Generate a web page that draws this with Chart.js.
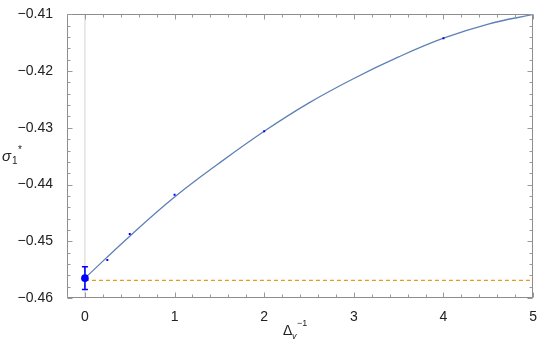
<!DOCTYPE html>
<html><head><meta charset="utf-8">
<script src="https://cdn.jsdelivr.net/npm/chart.js@4/dist/chart.umd.min.js"></script>
<style>html,body{margin:0;padding:0;background:#fff;}#wrap{width:540px;height:343px;}</style>
</head><body><div id="wrap"><canvas id="c" width="540" height="343"></canvas></div>
<script>
// data
const pointX = [0.25, 0.5, 1, 2, 4];
const pointY = [-0.4533, -0.4487, -0.4418, -0.4306, -0.4142];
const extrapX = [0];
const extrapY = [-0.4565];
const extrapErr = [0.0020];
const fitX = [0, 0.5, 1, 1.5, 2, 2.5, 3, 3.5, 4, 4.5, 5];
const fitY = [-0.4565, -0.4491, -0.4422, -0.4362, -0.4306, -0.4256, -0.4213, -0.4175, -0.4142, -0.4117, -0.4100];
const refX = [0, 5];
const refY = [-0.4569, -0.4569];
const xTicks = [0, 1, 2, 3, 4, 5];
const yTicks = [-0.46, -0.45, -0.44, -0.43, -0.42, -0.41];

const FONT = '"Liberation Sans", Arial, sans-serif';
const frame = {
  id: 'frame',
  beforeDatasetsDraw(chart) {
    const {ctx, chartArea: a, scales: {x}} = chart;
    ctx.save();
    ctx.strokeStyle = '#e2e2e2'; ctx.lineWidth = 1.5;
    const x0 = x.getPixelForValue(0);
    ctx.beginPath(); ctx.moveTo(x0, a.top); ctx.lineTo(x0, a.bottom); ctx.stroke();
    ctx.restore();
  },
  afterDatasetsDraw(chart) {
    const {ctx, chartArea: a, scales: {x, y}} = chart;
    ctx.save();
    // error bar
    ctx.strokeStyle = '#0000ff'; ctx.lineWidth = 1.6;
    extrapX.forEach((vx, i) => {
      const px = x.getPixelForValue(vx);
      const top = y.getPixelForValue(extrapY[i] + extrapErr[i]);
      const bot = y.getPixelForValue(extrapY[i] - extrapErr[i]);
      ctx.beginPath();
      ctx.moveTo(px, top); ctx.lineTo(px, bot);
      ctx.moveTo(px - 3, top); ctx.lineTo(px + 3, top);
      ctx.moveTo(px - 3, bot); ctx.lineTo(px + 3, bot);
      ctx.stroke();
    });
    // frame
    const L0 = Math.round(a.left) + 0.5, R0 = Math.round(a.right) - 0.5;
    const T0 = Math.round(a.top) + 0.5, B0 = Math.round(a.bottom) - 0.5;
    ctx.strokeStyle = '#8c8c8c'; ctx.lineWidth = 1;
    ctx.strokeRect(L0, T0, R0 - L0, B0 - T0);
    // ticks
    ctx.strokeStyle = '#999';
    ctx.beginPath();
    for (let k = 0; k <= 26; k++) {
      const v = -0.2 + k * 0.2;
      const major = (k - 1) % 5 === 0;
      const L = major ? 5 : 3;
      const px = Math.round(x.getPixelForValue(v)) + 0.5;
      ctx.moveTo(px, B0); ctx.lineTo(px, B0 - L);
      ctx.moveTo(px, T0); ctx.lineTo(px, T0 + L);
    }
    for (let k = 0; k <= 25; k++) {
      const v = -0.46 + k * 0.002;
      const major = k % 5 === 0;
      const L = major ? 5 : 3;
      const py = Math.round(y.getPixelForValue(v)) + 0.5;
      ctx.moveTo(L0, py); ctx.lineTo(L0 + L, py);
      ctx.moveTo(R0, py); ctx.lineTo(R0 - L, py);
    }
    ctx.stroke();
    // axis titles
    ctx.fillStyle = '#222';
    ctx.textBaseline = 'alphabetic';
    ctx.textAlign = 'left';
    ctx.font = 'italic 15px ' + FONT;
    ctx.fillText('σ', 2, 161);
    ctx.font = '10px ' + FONT;
    ctx.fillText('1', 12, 164);
    ctx.fillText('*', 18, 153);
    ctx.font = '14px ' + FONT;
    ctx.fillText('Δ', 283, 335);
    ctx.font = 'italic 9px ' + FONT;
    ctx.fillText('v', 292, 339);
    ctx.font = '9px ' + FONT;
    ctx.fillText('−1', 297, 326);
    ctx.restore();
  }
};

new Chart(document.getElementById('c'), {
  data: {
    datasets: [
      { type: 'line', data: refX.map((v, i) => ({x: v, y: refY[i]})), borderColor: '#E19C24', borderWidth: 1.2, borderDash: [4, 3], pointRadius: 0, order: 4 },
      { type: 'line', data: fitX.map((v, i) => ({x: v, y: fitY[i]})), borderColor: '#5E81B5', borderWidth: 1.3, pointRadius: 0, tension: 0.4, order: 3 },
      { type: 'scatter', data: pointX.map((v, i) => ({x: v, y: pointY[i]})), backgroundColor: '#0000ff', borderColor: '#0000ff', pointStyle: 'rect', pointRadius: 1.4, borderWidth: 0, order: 2 },
      { type: 'scatter', data: extrapX.map((v, i) => ({x: v, y: extrapY[i]})), backgroundColor: '#0000ff', borderColor: '#0000ff', pointRadius: 3.8, borderWidth: 0, order: 1 }
    ]
  },
  options: {
    responsive: false, animation: false,
    layout: { padding: { top: 10, right: 5, left: 0, bottom: 0 } },
    plugins: { legend: { display: false }, tooltip: { enabled: false } },
    scales: {
      x: {
        type: 'linear', min: -0.2, max: 5,
        grid: { display: false }, border: { display: false },
        afterBuildTicks: s => { s.ticks = xTicks.map(v => ({value: v})); },
        afterFit: s => { s.height = 45; },
        ticks: { color: '#222', font: { family: FONT, size: 14 }, padding: 3, maxRotation: 0, callback: v => String(v) }
      },
      y: {
        type: 'linear', min: -0.46, max: -0.41,
        grid: { display: false }, border: { display: false },
        afterBuildTicks: s => { s.ticks = yTicks.map(v => ({value: v})); },
        afterFit: s => { s.width = 67; },
        ticks: { color: '#222', font: { family: FONT, size: 14 }, padding: 6, callback: v => (v < 0 ? '−' : '') + Math.abs(v).toFixed(2) }
      }
    }
  },
  plugins: [frame]
});
</script></body></html>
